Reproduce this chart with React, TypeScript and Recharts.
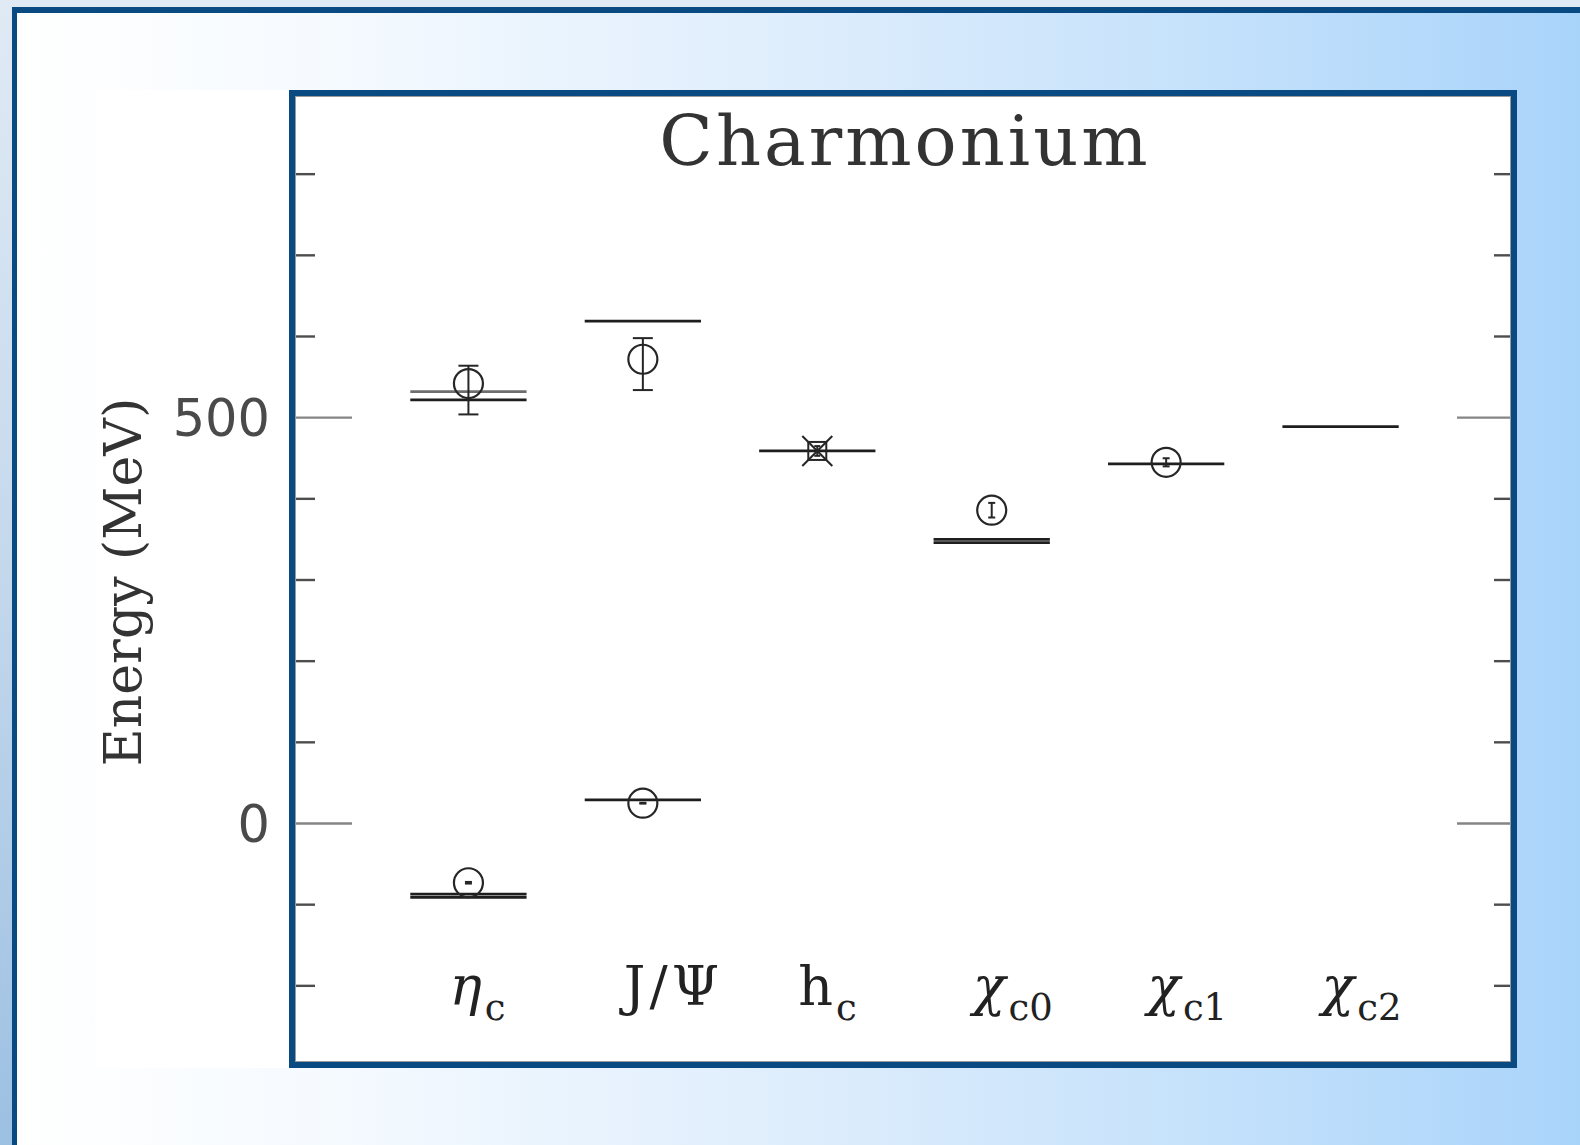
import React from 'react';
import { ScatterChart, Scatter, XAxis, YAxis, ReferenceLine, ErrorBar, Label } from 'recharts';

// States along the horizontal axis (placed at x = 1..6)
const stateNames = ['η', 'J/Ψ', 'h', 'χ', 'χ', 'χ'];
const stateSubscripts = ['c', '', 'c', 'c0', 'c1', 'c2'];
const statePositions = [1, 2, 3, 4, 5, 6];

// Energy axis ticks (MeV)
const energyTicks = [-200, -100, 0, 100, 200, 300, 400, 500, 600, 700, 800];
const labelledTicks = [0, 500];

// Experimental levels: state position and energy (MeV)
const levelState = [1, 1, 1, 2, 2, 3, 4, 4, 5, 6];
const levelEnergy = [-87, -91, 522, 29, 619, 459, 350, 346, 443, 489];

// Second measurement, drawn in grey
const altLevelState = [1];
const altLevelEnergy = [532];

// Lattice results, 1S and 1P states
const groundState = [1, 2, 4, 5];
const groundEnergy = [-73, 25, 386, 445];
const groundError = [1, 0.5, 9, 5];

// Lattice results, 2S states (asymmetric errors: below, above)
const radialState = [1, 2];
const radialEnergy = [542, 572];
const radialErrorBelow = [38, 38];
const radialErrorAbove = [22, 26];

// Lattice result for h_c
const hcState = [3];
const hcEnergy = [459];
const hcError = [6];

const HALF = 1 / 3;
const INK = '#262626';

const toPoints = (xs: number[], ys: number[], es: any[]) =>
  xs.map((x, i) => ({ x, y: ys[i], err: es[i] }));

const groundData = toPoints(groundState, groundEnergy, groundError);
const radialData = toPoints(
  radialState,
  radialEnergy,
  radialState.map((_, i) => [radialErrorBelow[i], radialErrorAbove[i]])
);
const hcData = toPoints(hcState, hcEnergy, hcError);

const OpenCircle = (props: any) => {
  const { cx, cy } = props;
  if (cx == null || cy == null) return null;
  return <circle cx={cx} cy={cy} r={14.5} fill="none" stroke={INK} strokeWidth={2.2} />;
};

const CrossedSquare = (props: any) => {
  const { cx, cy } = props;
  if (cx == null || cy == null) return null;
  const h = 9;
  const d = 15;
  return (
    <g stroke={INK} strokeWidth={2} fill="none">
      <rect x={cx - h} y={cy - h} width={2 * h} height={2 * h} />
      <line x1={cx - d} y1={cy - d} x2={cx + d} y2={cy + d} />
      <line x1={cx - d} y1={cy + d} x2={cx + d} y2={cy - d} />
    </g>
  );
};

const LeftTick = (props: any) => {
  const { x, y, payload } = props;
  const v = payload.value;
  const major = labelledTicks.includes(v);
  return (
    <g>
      <line
        x1={x}
        y1={y}
        x2={x + (major ? 58 : 21)}
        y2={y}
        stroke={major ? '#858585' : '#4d4d4d'}
        strokeWidth={2.4}
      />
      {major && (
        <text
          x={x - 24}
          y={y}
          dy={18}
          textAnchor="end"
          fontFamily="'DejaVu Sans', sans-serif"
          fontSize={51}
          fill="#4a4a4a"
        >
          {v}
        </text>
      )}
    </g>
  );
};

const RightTick = (props: any) => {
  const { x, y, payload } = props;
  const major = labelledTicks.includes(payload.value);
  return (
    <line
      x1={x}
      y1={y}
      x2={x - (major ? 58 : 21)}
      y2={y}
      stroke={major ? '#858585' : '#4d4d4d'}
      strokeWidth={2.4}
    />
  );
};

const StateTick = (props: any) => {
  const { x, y, payload } = props;
  const i = statePositions.indexOf(payload.value);
  if (i < 0) return null;
  const name = stateNames[i];
  const sub = stateSubscripts[i];
  const italic = name === 'η' || name === 'χ';
  return (
    <text
      x={x - 19}
      y={y - 62}
      fontFamily="'DejaVu Serif', serif"
      fontSize={54}
      letterSpacing={name === 'J/Ψ' ? 4 : 0}
      fill="#222"
    >
      <tspan fontStyle={italic ? 'italic' : 'normal'}>{name}</tspan>
      {sub && (
        <tspan fontSize={37} dy={15} dx={3}>
          {sub}
        </tspan>
      )}
    </text>
  );
};

const EnergyLabel = (props: any) => {
  const vb = props.viewBox || { x: 0, y: 93, width: 294, height: 974 };
  const cy = vb.y + vb.height / 2;
  return (
    <text
      transform={`translate(${vb.x + 141}, ${cy + 2}) rotate(-90)`}
      textAnchor="middle"
      fontFamily="'DejaVu Serif', serif"
      fontSize={52}
      fill="#333"
    >
      Energy (MeV)
    </text>
  );
};

export default function App() {
  return (
    <div
      style={{
        position: 'absolute',
        left: 0,
        top: 0,
        width: 1580,
        height: 1145,
        overflow: 'hidden',
        background: 'linear-gradient(to bottom, #e0eaf5 0%, #c4d8ec 50%, #9cc0e2 100%)',
      }}
    >
      {/* slide frame */}
      <div
        style={{
          position: 'absolute',
          left: 12,
          top: 7,
          width: 1568,
          height: 1138,
          boxSizing: 'border-box',
          borderLeft: '5px solid #0a4a82',
          borderTop: '6px solid #0a4a82',
          background:
            'linear-gradient(to right, #ffffff 0%, #f5faff 20%, #deedfc 50%, #c6e2fb 75%, #a9d4fa 100%)',
        }}
      />
      {/* white panel behind the plot */}
      <div
        style={{
          position: 'absolute',
          left: 95,
          top: 90,
          width: 1419,
          height: 978,
          background: '#ffffff',
        }}
      />
      <div style={{ position: 'absolute', left: 0, top: 0 }}>
        <ScatterChart
          width={1580}
          height={1145}
          margin={{ top: 93, right: 0, bottom: 0, left: 0 }}
        >
          <XAxis
            type="number"
            dataKey="x"
            domain={[0, 7]}
            ticks={statePositions}
            interval={0}
            allowDataOverflow
            tickLine={false}
            axisLine={false}
            tickSize={0}
            tickMargin={0}
            height={78}
            tick={<StateTick />}
          />
          <YAxis
            yAxisId="left"
            type="number"
            dataKey="y"
            domain={[-300, 900]}
            ticks={energyTicks}
            interval={0}
            allowDataOverflow
            tickLine={false}
            axisLine={false}
            tickSize={0}
            tickMargin={0}
            width={294}
            tick={<LeftTick />}
          >
            <Label content={<EnergyLabel />} />
          </YAxis>
          <YAxis
            yAxisId="right"
            orientation="right"
            type="number"
            dataKey="y"
            domain={[-300, 900]}
            ticks={energyTicks}
            interval={0}
            allowDataOverflow
            tickLine={false}
            axisLine={false}
            tickSize={0}
            tickMargin={0}
            width={65}
            tick={<RightTick />}
          />
          {altLevelState.map((s, i) => (
            <ReferenceLine
              key={'alt' + i}
              yAxisId="left"
              segment={[
                { x: s - HALF, y: altLevelEnergy[i] },
                { x: s + HALF, y: altLevelEnergy[i] },
              ]}
              stroke="#6e6e6e"
              strokeWidth={2.8}
            />
          ))}
          {levelState.map((s, i) => (
            <ReferenceLine
              key={'lvl' + i}
              yAxisId="left"
              segment={[
                { x: s - HALF, y: levelEnergy[i] },
                { x: s + HALF, y: levelEnergy[i] },
              ]}
              stroke="#1e1e1e"
              strokeWidth={2.8}
            />
          ))}
          <Scatter
            yAxisId="left"
            data={groundData}
            dataKey="y"
            shape={<OpenCircle />}
            isAnimationActive={false}
          >
            <ErrorBar dataKey="err" direction="y" width={3.5} stroke={INK} strokeWidth={2} />
          </Scatter>
          <Scatter
            yAxisId="left"
            data={radialData}
            dataKey="y"
            shape={<OpenCircle />}
            isAnimationActive={false}
          >
            <ErrorBar dataKey="err" direction="y" width={10} stroke={INK} strokeWidth={2} />
          </Scatter>
          <Scatter
            yAxisId="left"
            data={hcData}
            dataKey="y"
            shape={<CrossedSquare />}
            isAnimationActive={false}
          >
            <ErrorBar dataKey="err" direction="y" width={3} stroke={INK} strokeWidth={2} />
          </Scatter>
        </ScatterChart>
      </div>
      {/* plot frame */}
      <div
        style={{
          position: 'absolute',
          left: 289,
          top: 90,
          width: 1228,
          height: 978,
          boxSizing: 'border-box',
          border: '6px solid #0a4a82',
          pointerEvents: 'none',
        }}
      >
        <div
          style={{
            position: 'absolute',
            inset: 0,
            border: '1.5px solid #9a9a9a',
          }}
        />
      </div>
      <svg
        width={1580}
        height={1145}
        style={{ position: 'absolute', left: 0, top: 0, pointerEvents: 'none' }}
      >
        <text
          x={905}
          y={165}
          textAnchor="middle"
          fontFamily="'DejaVu Serif', serif"
          fontSize={70}
          letterSpacing={3}
          fill="#333"
        >
          Charmonium
        </text>
      </svg>
    </div>
  );
}
